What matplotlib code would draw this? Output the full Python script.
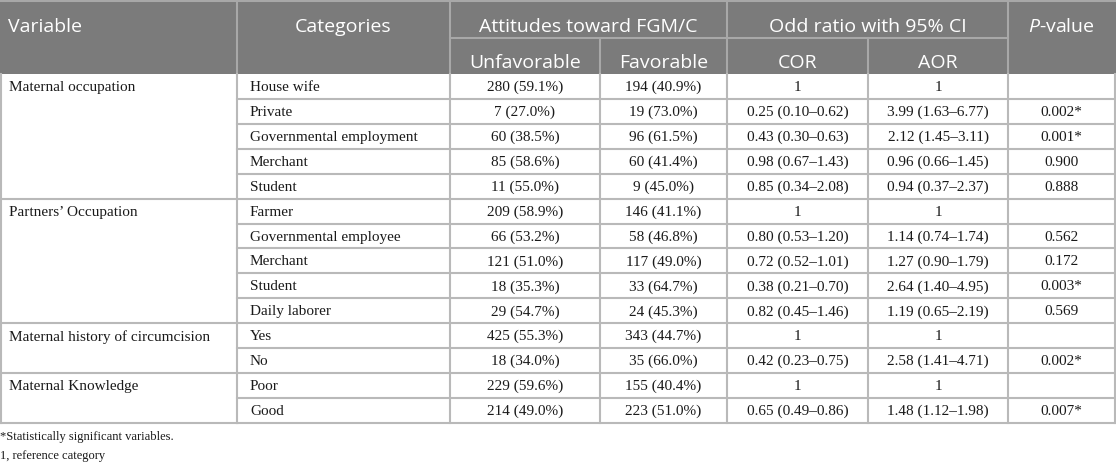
import matplotlib.pyplot as plt

plt.rcParams['mathtext.fontset'] = 'custom'
plt.rcParams['mathtext.rm'] = 'Open Sans'
plt.rcParams['mathtext.it'] = 'Open Sans:italic'

# table content
variables = ["Maternal occupation", "Partners’ Occupation",
             "Maternal history of circumcision", "Maternal Knowledge"]
group_sizes = [5, 5, 2, 2]
categories = ["House wife", "Private", "Governmental employment", "Merchant", "Student",
              "Farmer", "Governmental employee", "Merchant", "Student", "Daily laborer",
              "Yes", "No", "Poor", "Good"]
unfav_n = [280, 7, 60, 85, 11, 209, 66, 121, 18, 29, 425, 18, 229, 214]
unfav_pct = [59.1, 27.0, 38.5, 58.6, 55.0, 58.9, 53.2, 51.0, 35.3, 54.7, 55.3, 34.0, 59.6, 49.0]
fav_n = [194, 19, 96, 60, 9, 146, 58, 117, 33, 24, 343, 35, 155, 223]
fav_pct = [40.9, 73.0, 61.5, 41.4, 45.0, 41.1, 46.8, 49.0, 64.7, 45.3, 44.7, 66.0, 40.4, 51.0]
# None = reference category (shown as 1)
cor_or = [None, 0.25, 0.43, 0.98, 0.85, None, 0.80, 0.72, 0.38, 0.82, None, 0.42, None, 0.65]
cor_lo = [None, 0.10, 0.30, 0.67, 0.34, None, 0.53, 0.52, 0.21, 0.45, None, 0.23, None, 0.49]
cor_hi = [None, 0.62, 0.63, 1.43, 2.08, None, 1.20, 1.01, 0.70, 1.46, None, 0.75, None, 0.86]
aor_or = [None, 3.99, 2.12, 0.96, 0.94, None, 1.14, 1.27, 2.64, 1.19, None, 2.58, None, 1.48]
aor_lo = [None, 1.63, 1.45, 0.66, 0.37, None, 0.74, 0.90, 1.40, 0.65, None, 1.41, None, 1.12]
aor_hi = [None, 6.77, 3.11, 1.45, 2.37, None, 1.74, 1.79, 4.95, 2.19, None, 4.71, None, 1.98]
p_values = [None, 0.002, 0.001, 0.900, 0.888, None, 0.562, 0.172, 0.003, 0.569, None, 0.002, None, 0.007]
footnotes = ["*Statistically significant variables.", "1, reference category"]

# layout (pixels)
W, H = 1116, 473
xs = [1, 237, 450, 600, 727, 868, 1008, 1115]
hdr_mid, hdr_bot = 38, 74
tbl_bot = 423
row_h = (tbl_bot - hdr_bot) / len(categories)

hdr_bg = '#7b7b7b'
hdr_line = '#a8a8a8'
grid = '#b9b9b9'
lw = 1.5
body_font = dict(family='Liberation Serif', size=11, color='#1a1a1a')
head_font = dict(family='Open Sans', size=14, color='white')

fig = plt.figure(figsize=(W / 100, H / 100), dpi=100)
ax = fig.add_axes([0, 0, 1, 1])
ax.set_xlim(0, W)
ax.set_ylim(H, 0)
ax.axis('off')

# header
ax.add_patch(plt.Rectangle((0, 0), xs[-1] + 1, hdr_bot, color=hdr_bg, lw=0))
for x in [xs[1], xs[2], xs[4], xs[6]]:
    ax.plot([x, x], [0, hdr_bot], color=hdr_line, lw=lw)
for x in [xs[3], xs[5]]:
    ax.plot([x, x], [hdr_mid, hdr_bot], color=hdr_line, lw=lw)
ax.plot([xs[2], xs[6]], [hdr_mid, hdr_mid], color=hdr_line, lw=lw)
ax.plot([0, xs[-1] + 1], [0.8, 0.8], color=hdr_line, lw=lw)

b1, b2 = 32, 68
ax.text(xs[0] + 7, b1, "Variable", va='baseline', ha='left', **head_font)
ax.text((xs[1] + xs[2]) / 2, b1, "Categories", va='baseline', ha='center', **head_font)
ax.text((xs[2] + xs[4]) / 2, b1, "Attitudes toward FGM/C", va='baseline', ha='center', **head_font)
ax.text((xs[4] + xs[6]) / 2, b1, "Odd ratio with 95% CI", va='baseline', ha='center', **head_font)
ax.text((xs[6] + xs[7]) / 2, b1, "$P$-value", va='baseline', ha='center', **head_font)
for i, lab in zip([2, 3, 4, 5], ["Unfavorable", "Favorable", "COR", "AOR"]):
    ax.text((xs[i] + xs[i + 1]) / 2, b2, lab, va='baseline', ha='center', **head_font)


def fmt_or(v, lo, hi):
    if v is None:
        return "1"
    return f"{v:.2f} ({lo:.2f}–{hi:.2f})"


# body
for r in range(len(categories)):
    y0 = hdr_bot + r * row_h
    yc = y0 + row_h / 2 + 1
    ax.plot([xs[1], xs[-1]], [y0 + row_h, y0 + row_h], color=grid, lw=lw)
    ax.text(xs[1] + 13, yc, categories[r], ha='left', va='center', **body_font)
    cells = [f"{unfav_n[r]} ({unfav_pct[r]:.1f}%)",
             f"{fav_n[r]} ({fav_pct[r]:.1f}%)",
             fmt_or(cor_or[r], cor_lo[r], cor_hi[r]),
             fmt_or(aor_or[r], aor_lo[r], aor_hi[r]),
             "" if p_values[r] is None else f"{p_values[r]:.3f}" + ("*" if p_values[r] < 0.05 else "")]
    for c, txt in enumerate(cells):
        ax.text((xs[c + 2] + xs[c + 3]) / 2, yc, txt, ha='center', va='center', **body_font)

start = 0
for name, n in zip(variables, group_sizes):
    y0 = hdr_bot + start * row_h
    ax.text(xs[0] + 8, y0 + row_h / 2 + 1, name, ha='left', va='center', **body_font)
    start += n
    yb = hdr_bot + start * row_h
    ax.plot([xs[0], xs[1]], [yb, yb], color=grid, lw=lw)

for x in xs:
    ax.plot([x, x], [hdr_bot, tbl_bot], color=grid, lw=lw)

# footnotes
for k, note in enumerate(footnotes):
    ax.text(0, 437 + k * 19, note, ha='left', va='center',
            family='Liberation Serif', size=9, color='#1a1a1a')

fig.savefig('out.png', dpi=100)
